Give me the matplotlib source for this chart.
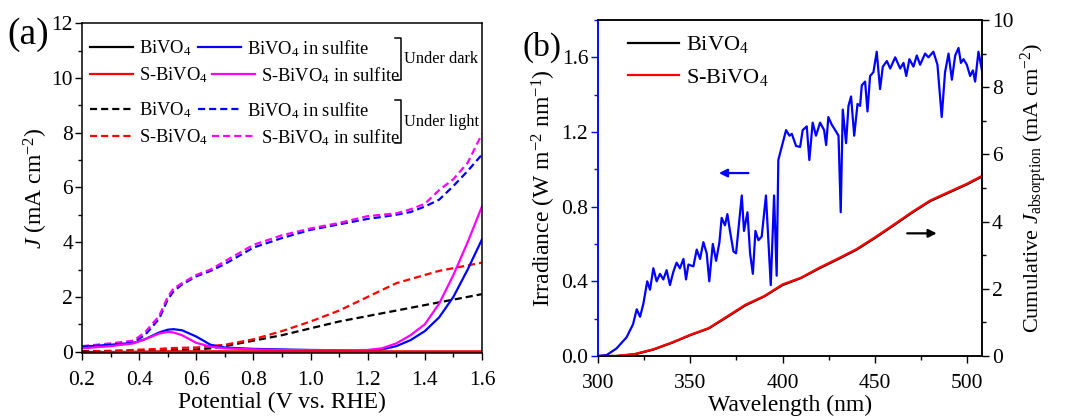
import matplotlib
matplotlib.use("Agg")
import matplotlib.pyplot as plt
import matplotlib.ticker as tck
from matplotlib.lines import Line2D
from matplotlib.legend import Legend

plt.rcParams['font.family'] = ['Liberation Serif', 'DejaVu Serif']
plt.rcParams['mathtext.fontset'] = 'custom'
plt.rcParams['mathtext.rm'] = 'Liberation Serif'
plt.rcParams['mathtext.it'] = 'Liberation Serif:italic'
plt.rcParams['xtick.direction'] = 'out'
plt.rcParams['ytick.direction'] = 'out'

# ---- panel (a): J-V curves ----
potential = [0.2, 0.3, 0.38, 0.42, 0.47, 0.5, 0.52, 0.55, 0.6, 0.65, 0.7, 0.8, 0.9, 1.0, 1.1,
             1.2, 1.25, 1.3, 1.35, 1.4, 1.45, 1.5, 1.55, 1.6]
bivo4_dark = [0.0, 0.0, 0.0, 0.0, 0.0, 0.0, 0.0, 0.0, 0.0, 0.0, 0.0, 0.0, 0.0, 0.0, 0.0,
              0.0, 0.0, 0.0, 0.0, 0.0, 0.0, 0.0, 0.0, 0.0]
sbivo4_dark = [-0.05, -0.03, -0.02, -0.01, 0.0, 0.0, 0.0, 0.0, 0.0, 0.0, 0.0, 0.0, 0.0, 0.0, 0.0,
               0.0, 0.0, 0.0, 0.0, 0.0, 0.0, 0.0, 0.0, 0.0]
bivo4_sulf_dark = [0.18, 0.25, 0.32, 0.45, 0.7, 0.8, 0.82, 0.78, 0.55, 0.25, 0.15, 0.1, 0.08, 0.06, 0.05,
                   0.05, 0.08, 0.2, 0.42, 0.75, 1.25, 2.0, 3.0, 4.1]
sbivo4_sulf_dark = [0.12, 0.2, 0.3, 0.45, 0.66, 0.72, 0.7, 0.6, 0.32, 0.18, 0.12, 0.08, 0.06, 0.05, 0.05,
                    0.06, 0.12, 0.3, 0.6, 1.0, 1.75, 2.8, 4.0, 5.3]
bivo4_light = [0.02, 0.02, 0.03, 0.03, 0.04, 0.05, 0.05, 0.06, 0.08, 0.12, 0.2, 0.4, 0.6, 0.85, 1.1,
               1.3, 1.4, 1.5, 1.6, 1.7, 1.8, 1.9, 2.0, 2.1]
sbivo4_light = [0.0, 0.03, 0.06, 0.08, 0.1, 0.12, 0.13, 0.14, 0.15, 0.2, 0.25, 0.45, 0.75, 1.1, 1.5,
                2.0, 2.25, 2.5, 2.65, 2.8, 2.95, 3.05, 3.15, 3.25]
bivo4_sulf_light = [0.18, 0.25, 0.35, 0.6, 1.2, 1.9, 2.2, 2.45, 2.75, 2.95, 3.2, 3.8, 4.15, 4.45, 4.65,
                    4.85, 4.92, 5.0, 5.1, 5.3, 5.55, 6.05, 6.6, 7.2]
sbivo4_sulf_light = [0.2, 0.3, 0.4, 0.7, 1.3, 2.0, 2.3, 2.5, 2.8, 3.0, 3.3, 3.9, 4.25, 4.5, 4.7,
                     4.95, 5.0, 5.05, 5.2, 5.4, 5.9, 6.3, 6.9, 7.95]

# ---- panel (b): AM1.5G irradiance and cumulative J ----
wl = [300, 304.7, 310, 315.5, 319, 321, 322.8, 324.6, 326.7, 328.2, 330, 331.8, 333.6, 335.4, 337.2,
      339, 340.8, 342.6, 344.4, 346.3, 347.7, 349, 351.7, 353.5, 355.3, 357.1, 358.9, 360.3, 362.2,
      364, 365.8, 367, 368.8, 370.1, 371.5, 373.4, 374.8, 376, 377.9, 379.1, 381, 382.4, 383.9,
      385.3, 386.9, 388.7, 391, 393.6, 395.4, 396.8, 397.7, 399, 401.9, 403.7, 405, 407.3, 409.5,
      410.9, 413.1, 414.5, 416.3, 418.1, 420.3, 422.5, 423.6, 424.8, 426.6, 428.5, 430.3, 431.5,
      432.6, 434.4, 435.7, 437.1, 438.8, 440.6, 442, 442.9, 444.7, 446, 447.4, 449.2, 451, 452.8,
      454.3, 456.5, 458.3, 461, 463.7, 465.5, 467, 468.7, 470.9, 472.7, 474.5, 477.2, 479, 481.7,
      483.9, 486.2, 488, 489.9, 491.7, 493.5, 495.3, 496.6, 498, 499.8, 501.6, 503.1, 504.3, 506.1, 508]
irradiance = [0.0, 0.005, 0.04, 0.10, 0.17, 0.25, 0.21, 0.28, 0.40, 0.355, 0.47, 0.40, 0.44, 0.41, 0.46,
              0.38, 0.45, 0.50, 0.47, 0.52, 0.41, 0.49, 0.48, 0.57, 0.52, 0.61, 0.55, 0.40, 0.60,
              0.51, 0.61, 0.74, 0.70, 0.76, 0.67, 0.56, 0.55, 0.67, 0.86, 0.67, 0.77, 0.55, 0.44,
              0.67, 0.62, 0.64, 0.86, 0.38, 0.86, 0.43, 1.05, 1.10, 1.21, 1.18, 1.19, 1.125, 1.12,
              1.21, 1.23, 1.05, 1.25, 1.18, 1.25, 1.21, 1.13, 1.28, 1.24, 1.21, 1.18, 0.77,
              1.32, 1.14, 1.34, 1.39, 1.18, 1.35, 1.34, 1.45, 1.47, 1.31, 1.50, 1.52, 1.63, 1.43,
              1.55, 1.58, 1.54, 1.60, 1.54, 1.57, 1.50, 1.59, 1.55, 1.61, 1.56, 1.62, 1.60, 1.63,
              1.56, 1.28, 1.52, 1.62, 1.48, 1.61, 1.65, 1.57, 1.59, 1.56, 1.50, 1.53, 1.47, 1.63, 1.53]

wl_cum = [300, 310, 320, 330, 340, 350, 360, 370, 380, 390, 400, 410, 420, 430, 440, 450, 460,
          470, 480, 490, 500, 508]
cum_bivo4 = [0.0, 0.0, 0.05, 0.19, 0.39, 0.62, 0.82, 1.16, 1.51, 1.77, 2.11, 2.32, 2.61, 2.88, 3.16,
             3.51, 3.88, 4.26, 4.61, 4.86, 5.11, 5.34]
cum_sbivo4 = [0.0, 0.0, 0.06, 0.2, 0.4, 0.63, 0.83, 1.18, 1.53, 1.78, 2.13, 2.33, 2.63, 2.9, 3.18,
              3.53, 3.9, 4.28, 4.63, 4.88, 5.13, 5.36]

fig = plt.figure(figsize=(10.86, 4.17), dpi=100)
ax = fig.add_axes([0.0755, 0.1535, 0.3683, 0.791])
ax2 = fig.add_axes([0.5506, 0.1463, 0.3536, 0.8058])

lw = 1.6
dash = (3.2, 1.8)
ax.plot(potential, bivo4_light, color='black', lw=lw, dashes=dash)
ax.plot(potential, sbivo4_light, color='red', lw=lw, dashes=dash)
ax.plot(potential, bivo4_sulf_light, color='blue', lw=lw, dashes=dash)
ax.plot(potential, sbivo4_sulf_light, color='magenta', lw=lw, dashes=dash)
ax.plot(potential, bivo4_sulf_dark, color='blue', lw=lw)
ax.plot(potential, sbivo4_sulf_dark, color='magenta', lw=lw)
ax.plot(potential, bivo4_dark, color='black', lw=lw)
ax.plot(potential, sbivo4_dark, color='red', lw=2.0)

ax.set_xlim(0.2, 1.6)
ax.set_ylim(-0.05, 12)
ax.set_xticks([0.2, 0.4, 0.6, 0.8, 1.0, 1.2, 1.4, 1.6])
ax.set_xticklabels(['0.2', '0.4', '0.6', '0.8', '1.0', '1.2', '1.4', '1.6'])
ax.set_yticks([0, 2, 4, 6, 8, 10, 12])
ax.xaxis.set_minor_locator(tck.MultipleLocator(0.1))
ax.yaxis.set_minor_locator(tck.MultipleLocator(1))
ax.tick_params(which='major', length=5, width=1, labelsize=15.5)
ax.tick_params(which='minor', length=3, width=1)
ax.tick_params(axis='x', pad=8)
ax.tick_params(axis='y', pad=1.5)
ax.set_xlabel('Potential (V vs. RHE)', fontsize=17, labelpad=1)
ax.set_ylabel(r'$J$ (mA cm$^{-2}$)', fontsize=17, labelpad=1)
for s in ax.spines.values():
    s.set_linewidth(1.1)

# legend entries, one per slot (Origin-style layout)
entries = [
    # label, color, x of handle start, row centre (axes fraction)
    ('BiVO$_4$', 'black', 0.02, 0.924),
    ('S-BiVO$_4$', 'red', 0.02, 0.842),
    ('BiVO$_4$ in sulfite', 'blue', 0.29, 0.924),
    ('S-BiVO$_4$ in sulfite', 'magenta', 0.325, 0.842),
]
row_shift = 0.188
for group, style in [(0, None), (1, dash)]:
    for name, c, xl, yc in entries:
        if style is None:
            h = Line2D([], [], color=c, lw=lw)
        else:
            h = Line2D([], [], color=c, lw=lw, dashes=style)
        lg = Legend(ax, [h], [name], loc='center left', bbox_to_anchor=(xl, yc - group * row_shift),
                    frameon=False, fontsize=13.3, handlelength=2.35, handletextpad=0.3,
                    borderaxespad=0, borderpad=0)
        ax.add_artist(lg)

# brackets
for top, bot, txt in [(0.955, 0.827, 'Under dark'), (0.767, 0.636, 'Under light')]:
    ax.plot([0.782, 0.797, 0.797, 0.782], [top, top, bot, bot], color='black', lw=1.1,
            transform=ax.transAxes, clip_on=False)
    ax.text(0.805, (top + bot) / 2, txt, transform=ax.transAxes, fontsize=11.8, va='center', ha='left')

fig.text(0.007, 0.918, '(a)', fontsize=27, va='center', ha='left')
fig.text(0.481, 0.887, '(b)', fontsize=24, va='center', ha='left')

# ---- panel (b) ----
ax2.plot(wl, irradiance, color='blue', lw=lw)
ax2.set_xlim(300, 508)
ax2.set_ylim(0, 1.8)
ax2.set_xticks([300, 350, 400, 450, 500])
ax2.set_yticks([0.0, 0.4, 0.8, 1.2, 1.6])
ax2.yaxis.set_major_formatter(tck.FormatStrFormatter('%.1f'))
ax2.xaxis.set_minor_locator(tck.MultipleLocator(25))
ax2.yaxis.set_minor_locator(tck.MultipleLocator(0.2))
ax2.tick_params(which='major', length=5, width=1, labelsize=15.5)
ax2.tick_params(which='minor', length=3, width=1)
ax2.tick_params(axis='x', pad=8)
ax2.tick_params(axis='y', pad=2)
ax2.tick_params(axis='y', which='both', color='blue')
ax2.spines['left'].set_color('blue')
for s in ax2.spines.values():
    s.set_linewidth(1.1)
ax2.set_xlabel('Wavelength (nm)', fontsize=17, labelpad=1)
ax2.set_ylabel(r'Irradiance (W m$^{-2}$ nm$^{-1}$)', fontsize=17, labelpad=2)

ax3 = ax2.twinx()
ax3.plot(wl_cum, cum_bivo4, color='black', lw=lw, label='BiVO$_4$')
ax3.plot(wl_cum, cum_sbivo4, color='red', lw=lw, label='S-BiVO$_4$')
ax3.set_ylim(0, 10)
ax3.set_yticks([0, 2, 4, 6, 8, 10])
ax3.yaxis.set_minor_locator(tck.MultipleLocator(1))
ax3.tick_params(which='major', length=5, width=1, labelsize=15.5, pad=2)
ax3.tick_params(which='minor', length=3, width=1)
ax3.spines['left'].set_color('blue')
for s in ax3.spines.values():
    s.set_linewidth(1.1)
ax3.set_ylabel(r'Cumulative $J_{\mathrm{absorption}}$ (mA cm$^{-2}$)', fontsize=16, labelpad=4)
ax3.legend(loc='upper left', bbox_to_anchor=(0.078, 0.957), frameon=False, fontsize=16,
           handlelength=2.3, handletextpad=0.3, labelspacing=0.5, borderaxespad=0, borderpad=0)

ax2.annotate('', xy=(364, 0.98), xytext=(383, 0.98),
             arrowprops=dict(arrowstyle='-|>', color='blue', lw=1.6, mutation_scale=12))
ax3.annotate('', xy=(485, 3.65), xytext=(466, 3.65),
             arrowprops=dict(arrowstyle='-|>', color='black', lw=1.6, mutation_scale=12))

fig.savefig('out.png', dpi=100)
